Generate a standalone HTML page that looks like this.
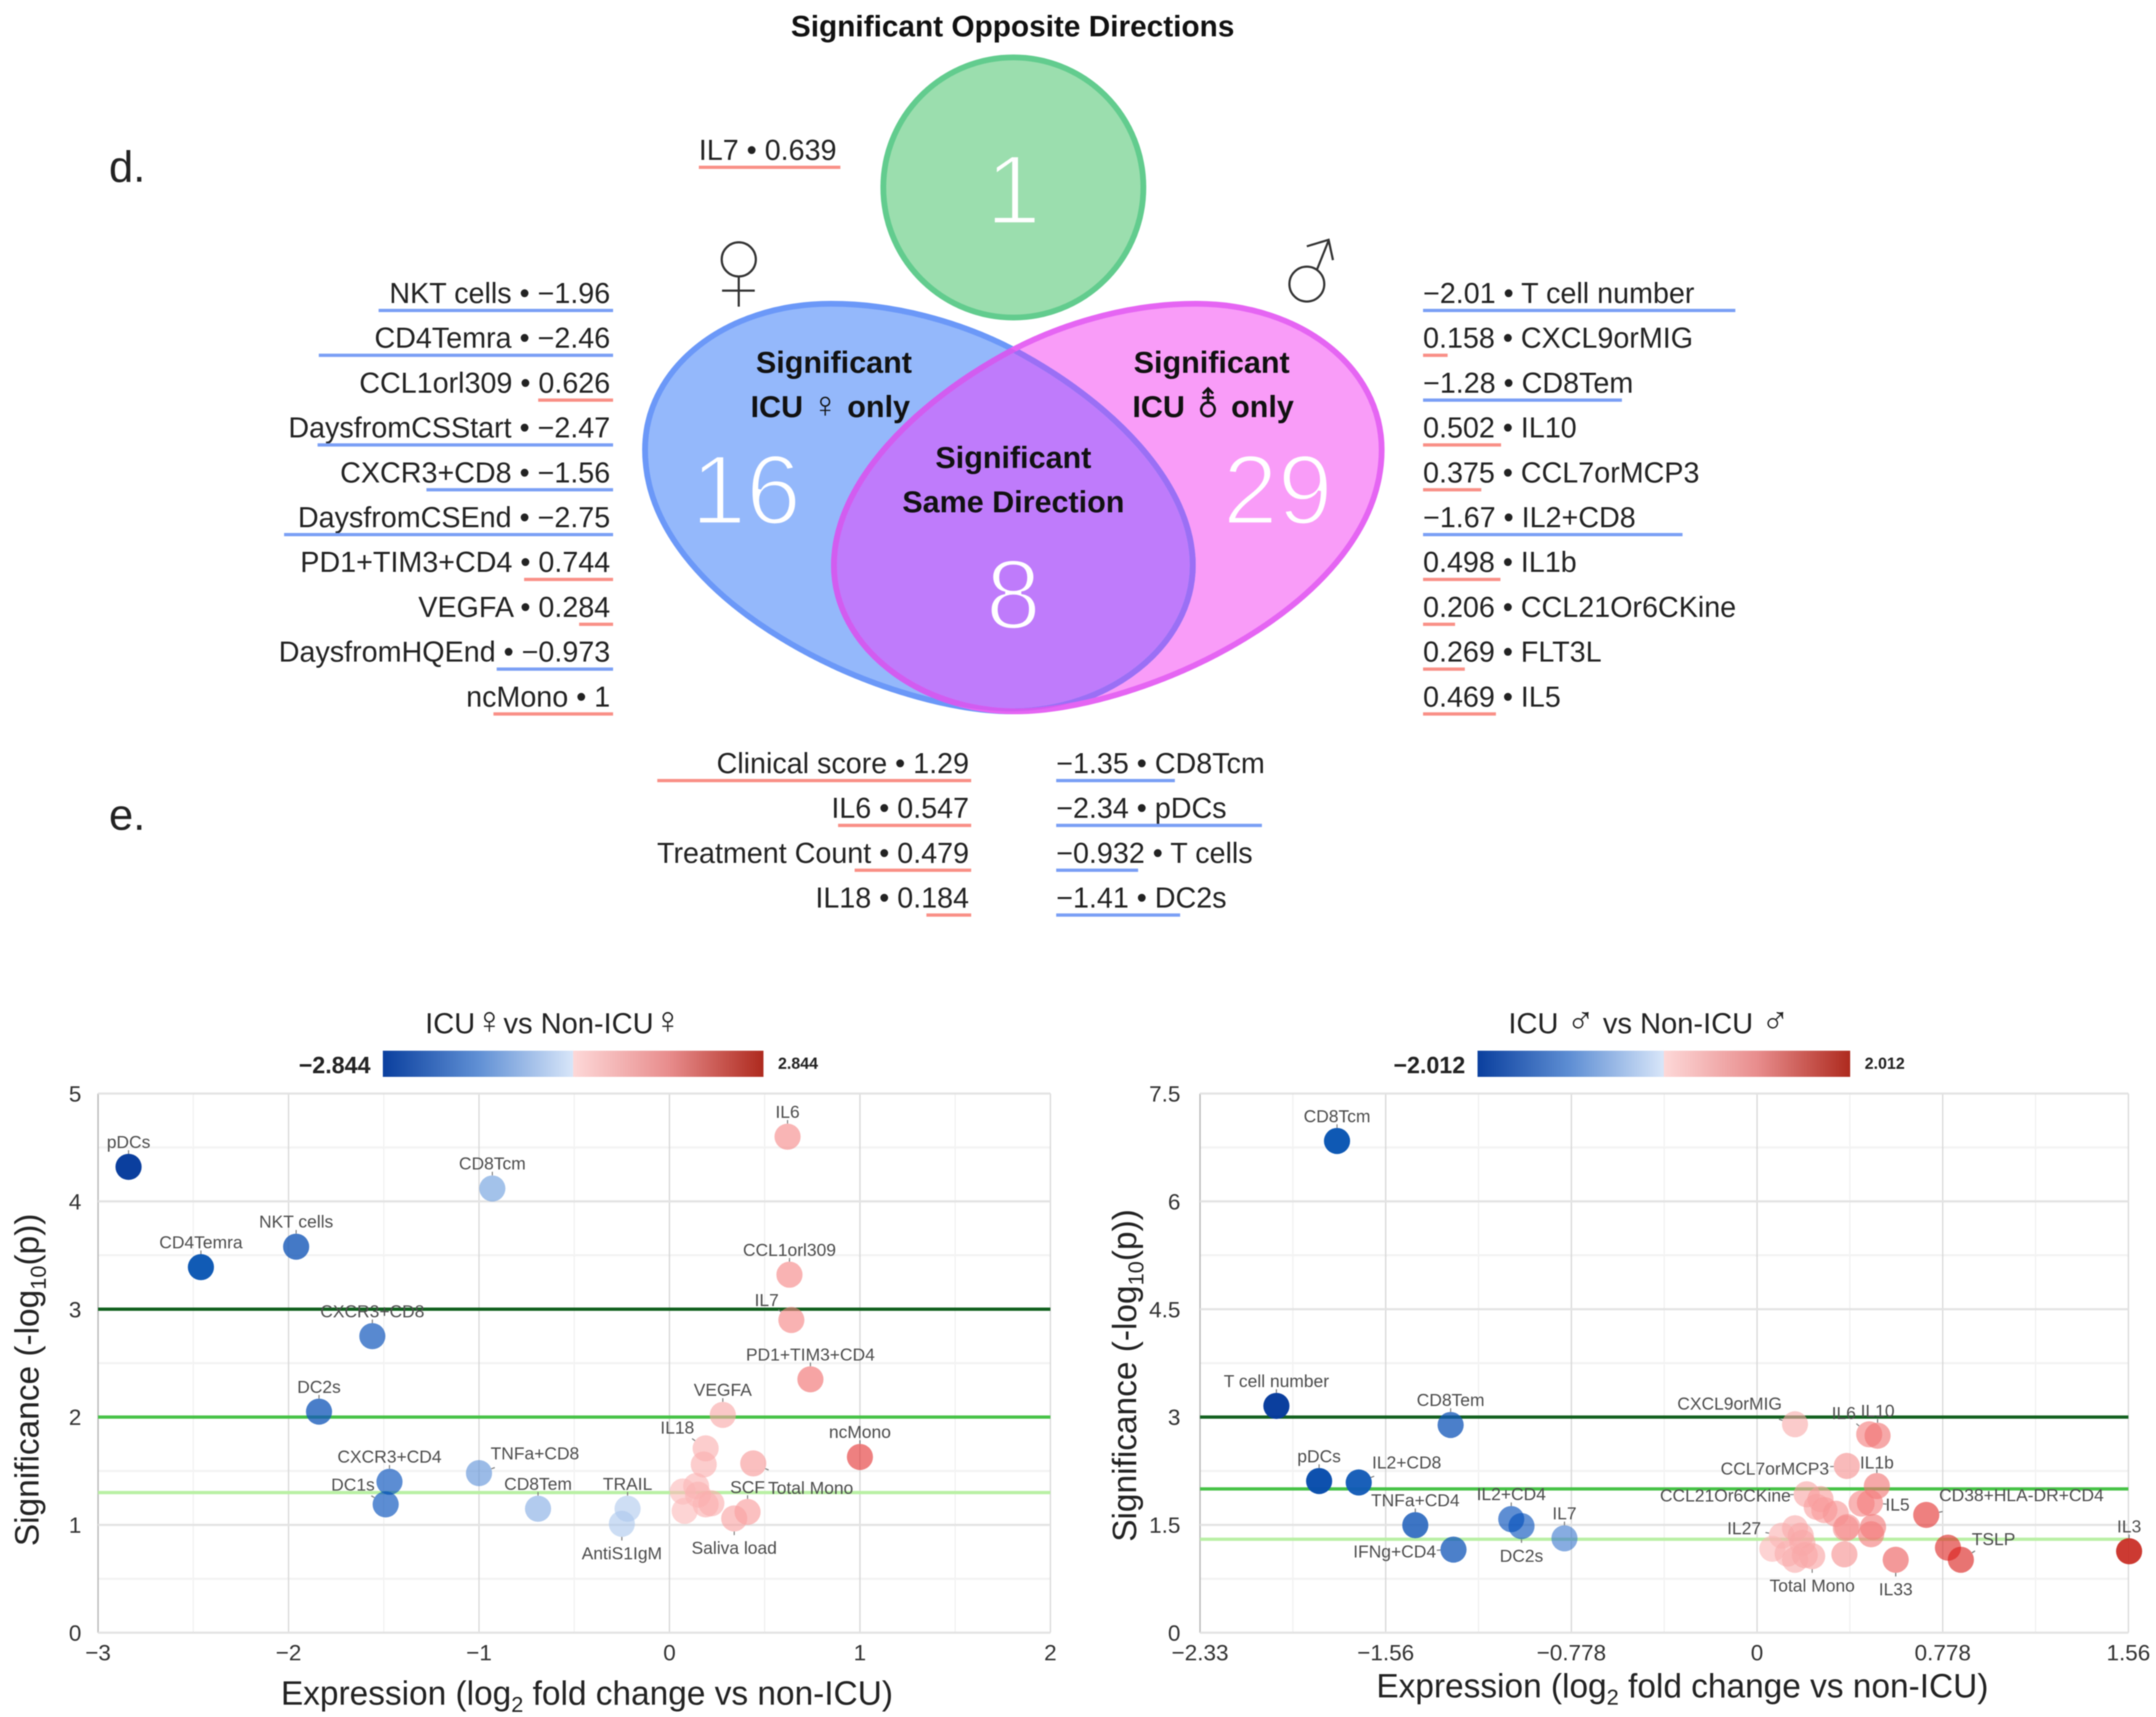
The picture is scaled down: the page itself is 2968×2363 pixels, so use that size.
<!DOCTYPE html>
<html lang="en">
<head>
<meta charset="utf-8">
<title>ICU vs Non-ICU significance</title>
<style>
html,body{margin:0;padding:0;background:#fff;}
svg{display:block;filter:blur(0.8px);}
text{font-family:"Liberation Sans","DejaVu Sans",sans-serif;}
</style>
</head>
<body>
<svg id="root" xmlns="http://www.w3.org/2000/svg" width="2968" height="2363" viewBox="0 0 2968 2363">
  <defs>
    <path id="blue-shape" d="M888 619 C888 505 1000 418 1144 418 C1235 418 1325 445 1393 480 C1530 552 1642 665 1642 778 C1642 890 1525 979 1392 979 C1220 979 888 830 888 619 Z"/>
    <path id="magenta-shape" d="M1902 619 C1902 505 1790 418 1646 418 C1555 418 1465 445 1397 480 C1260 552 1148 665 1148 778 C1148 890 1265 979 1398 979 C1570 979 1902 830 1902 619 Z"/>
    <clipPath id="blue-clip"><use href="#blue-shape"/></clipPath>
    <clipPath id="magenta-clip"><use href="#magenta-shape"/></clipPath>
    <linearGradient id="scale-gradient" x1="0" x2="1" y1="0" y2="0">
      <stop offset="0" stop-color="#0a3f9e"/>
      <stop offset="0.25" stop-color="#5f8fd4"/>
      <stop offset="0.5" stop-color="#d8e6f9"/>
      <stop offset="0.5" stop-color="#fdd8d8"/>
      <stop offset="0.75" stop-color="#e88d8d"/>
      <stop offset="1" stop-color="#ae2a1e"/>
    </linearGradient>
  </defs>

  <rect width="2968" height="2363" fill="#ffffff"/>

  <text x="150" y="250" font-size="60" fill="#222">d.</text>
  <text x="150" y="1142" font-size="60" fill="#222">e.</text>

  <g>
    <text x="1394" y="50" font-size="41" font-weight="bold" fill="#111" text-anchor="middle">Significant Opposite Directions</text>
    <circle cx="1395" cy="258" r="179" fill="#9bdeae" stroke="#62cc8e" stroke-width="8"/>
    <use href="#blue-shape" fill="#94b8fb"/>
    <use href="#magenta-shape" fill="#f99cf8"/>
    <use href="#magenta-shape" fill="#bf7bfb" clip-path="url(#blue-clip)"/>
    <use href="#blue-shape" fill="none" stroke="#6b98f8" stroke-width="8"/>
    <use href="#blue-shape" fill="none" stroke="#9b6ff5" stroke-width="8" clip-path="url(#magenta-clip)"/>
    <use href="#magenta-shape" fill="none" stroke="#e565f3" stroke-width="8"/>
    <use href="#magenta-shape" fill="none" stroke="#d25cf0" stroke-width="8" clip-path="url(#blue-clip)"/>

    <text x="1395" y="308" font-size="136" fill="#fff" stroke="#9bdeae" stroke-width="4" text-anchor="middle">1</text>
    <text x="1027" y="721" font-size="136" fill="#fff" stroke="#94b8fb" stroke-width="4" text-anchor="middle">16</text>
    <text x="1759" y="721" font-size="136" fill="#fff" stroke="#f99cf8" stroke-width="4" text-anchor="middle">29</text>
    <text x="1395" y="865" font-size="136" fill="#fff" stroke="#bf7bfb" stroke-width="4" text-anchor="middle">8</text>

    <text x="1148" y="513" font-size="42" font-weight="bold" fill="#111" text-anchor="middle">Significant</text>
    <text x="1143" y="574" font-size="42" font-weight="bold" fill="#111" text-anchor="middle">ICU <tspan font-size="50">♀</tspan> only</text>
    <text x="1668" y="513" font-size="42" font-weight="bold" fill="#111" text-anchor="middle">Significant</text>
    <text x="1670" y="574" font-size="42" font-weight="bold" fill="#111" text-anchor="middle">ICU <tspan font-size="48">⚨</tspan> only</text>
    <text x="1395" y="644" font-size="42" font-weight="bold" fill="#111" text-anchor="middle">Significant</text>
    <text x="1395" y="705" font-size="42" font-weight="bold" fill="#111" text-anchor="middle">Same Direction</text>

    <g fill="none" stroke="#333" stroke-width="3">
      <ellipse cx="1017" cy="357" rx="23.5" ry="23.5"/>
      <path d="M1017 380 V422 M994 400 H1039"/>
    </g>
    <g fill="none" stroke="#333" stroke-width="3">
      <circle cx="1799" cy="391" r="24"/>
      <path d="M1813 371 L1829 331 M1799 339 L1829 330 L1835 358"/>
    </g>
  </g>

  <g id="lists"></g>
  <g id="chart-female"></g>
  <g id="chart-male"></g>
</svg>

<script>
/* ---------- list data ---------- */
const oppositeLabels = ["IL7"];
const oppositeValues = [0.639];
const femaleOnlyLabels = ["NKT cells","CD4Temra","CCL1orl309","DaysfromCSStart","CXCR3+CD8","DaysfromCSEnd","PD1+TIM3+CD4","VEGFA","DaysfromHQEnd","ncMono"];
const femaleOnlyValues = [-1.96,-2.46,0.626,-2.47,-1.56,-2.75,0.744,0.284,-0.973,1];
const maleOnlyLabels = ["T cell number","CXCL9orMIG","CD8Tem","IL10","CCL7orMCP3","IL2+CD8","IL1b","CCL21Or6CKine","FLT3L","IL5"];
const maleOnlyValues = [-2.01,0.158,-1.28,0.502,0.375,-1.67,0.498,0.206,0.269,0.469];
const sameUpLabels = ["Clinical score","IL6","Treatment Count","IL18"];
const sameUpValues = [1.29,0.547,0.479,0.184];
const sameDownLabels = ["CD8Tcm","pDCs","T cells","DC2s"];
const sameDownValues = [-1.35,-2.34,-0.932,-1.41];

/* ---------- chart data: ICU female vs non-ICU female ---------- */
const femaleNames = ["pDCs","CD8Tcm","NKT cells","CD4Temra","IL6","CCL1orl309","IL7","PD1+TIM3+CD4","CXCR3+CD8","DC2s","VEGFA","ncMono","CXCR3+CD4","DC1s","TNFa+CD8","CD8Tem","TRAIL","AntiS1IgM","IL18","","Total Mono","","","","","","","SCF","Saliva load"];
const femaleFold = [-2.84,-0.93,-1.96,-2.46,0.62,0.63,0.64,0.74,-1.56,-1.84,0.28,1.0,-1.47,-1.49,-1.0,-0.69,-0.22,-0.25,0.19,0.18,0.44,0.14,0.07,0.15,0.22,0.19,0.08,0.41,0.34];
const femaleSig = [4.32,4.12,3.58,3.39,4.6,3.32,2.9,2.35,2.75,2.05,2.02,1.63,1.4,1.19,1.48,1.15,1.15,1.01,1.71,1.56,1.57,1.36,1.31,1.28,1.2,1.19,1.13,1.12,1.06];
const femaleXTicks = [-3,-2,-1,0,1,2];
const femaleXTickLabels = ["−3","−2","−1","0","1","2"];
const femaleYTicks = [0,1,2,3,4,5];
const femaleYTickLabels = ["0","1","2","3","4","5"];
const femaleThresholds = [3,2,1.3];
const femaleScaleMax = 2.844;

/* ---------- chart data: ICU male vs non-ICU male ---------- */
const maleNames = ["CD8Tcm","T cell number","CD8Tem","pDCs","IL2+CD8","TNFa+CD4","IFNg+CD4","IL2+CD4","DC2s","IL7","CXCL9orMIG","IL6","IL10","CCL7orMCP3","IL1b","CCL21Or6CKine","","","","","","IL5","","","","","CD38+HLA-DR+CD4","","TSLP","IL3","IL33","","Total Mono","IL27","","","","","","",""];
const maleFold = [-1.76,-2.014,-1.284,-1.835,-1.669,-1.432,-1.272,-1.03,-0.987,-0.807,0.159,0.47,0.505,0.376,0.502,0.208,0.266,0.25,0.282,0.33,0.438,0.473,0.372,0.378,0.486,0.478,0.709,0.8,0.854,1.559,0.581,0.366,0.231,0.104,0.064,0.159,0.183,0.19,0.128,0.159,0.2];
const maleSig = [6.84,3.155,2.89,2.11,2.09,1.496,1.156,1.58,1.483,1.313,2.9,2.76,2.74,2.32,2.04,1.925,1.858,1.75,1.706,1.655,1.797,1.807,1.453,1.47,1.47,1.37,1.639,1.183,1.015,1.133,1.015,1.09,1.065,1.35,1.167,1.453,1.35,1.25,1.1,1.015,1.08];
const maleXTicks = [-2.334,-1.556,-0.778,0,0.778,1.556];
const maleXTickLabels = ["−2.33","−1.56","−0.778","0","0.778","1.56"];
const maleYTicks = [0,1.5,3,4.5,6,7.5];
const maleYTickLabels = ["0","1.5","3","4.5","6","7.5"];
const maleThresholds = [3,2,1.3];
const maleScaleMax = 2.012;

/* ---------- label placement (pixels relative to each mark; layout, not data) ---------- */
const above = [0,-34], below = [0,41];
const femaleLabelPlacement = {
  "pDCs":above,"CD8Tcm":above,"NKT cells":above,"CD4Temra":above,"IL6":above,"CCL1orl309":above,
  "IL7":[-34,-27],"PD1+TIM3+CD4":above,"CXCR3+CD8":above,"DC2s":above,"VEGFA":above,"ncMono":above,
  "CXCR3+CD4":above,"DC1s":[-45,-27],"TNFa+CD8":[77,-27],"CD8Tem":above,"TRAIL":above,"AntiS1IgM":below,
  "IL18":[-39,-28],"SCF":above,"Total Mono":[79,34],"Saliva load":below
};
const maleLabelPlacement = {
  "CD8Tcm":above,"T cell number":above,"CD8Tem":above,"pDCs":above,"IL2+CD8":[66,-27],"TNFa+CD4":above,
  "IFNg+CD4":[-81,3],"IL2+CD4":above,"DC2s":below,"IL7":above,"CXCL9orMIG":[-90,-28],"IL6":[-35,-29],
  "IL10":above,"CCL7orMCP3":[-99,4],"IL1b":[0,-32],"CCL21Or6CKine":[-112,2],"IL5":[38,3],
  "CD38+HLA-DR+CD4":[131,-27],"TSLP":[45,-28],"IL3":above,"IL33":below,"Total Mono":below,"IL27":[-52,-10]
};

/* ---------- helpers ---------- */
const NS = "http://www.w3.org/2000/svg";
function mk(tag, attrs, parent, txt) {
  const el = document.createElementNS(NS, tag);
  for (const k in attrs) el.setAttribute(k, attrs[k]);
  if (txt !== undefined) el.textContent = txt;
  parent.appendChild(el);
  return el;
}
function slug(s) { return String(s).toLowerCase().replace(/[^a-z0-9]+/g, "-").replace(/^-|-$/g, ""); }
function printed(v) { return v < 0 ? "−" + Math.abs(v) : String(v); }

/* ---------- variable lists with length-encoded underlines ---------- */
const listsRoot = document.getElementById("lists");
function drawList(name, labels, values, o) {
  labels.forEach(function (lab, i) {
    const y = o.y0 + i * o.step;
    const str = o.labelFirst ? lab + " • " + printed(values[i]) : printed(values[i]) + " • " + lab;
    const t = mk("text", {x: o.x, y: y, "font-size": 39.5, fill: "#222", "text-anchor": o.side}, listsRoot, str);
    
    
    const len = Math.abs(values[i]) * o.unit;
    const x1 = o.side === "end" ? o.barEdge - len : o.barEdge;
    const b = mk("rect", {x: x1, y: y + 8, width: len, height: 4.5, fill: values[i] < 0 ? "#7a9ff5" : "#f98f86"}, listsRoot);
    
    
  });
}
drawList("opposite", oppositeLabels, oppositeValues, {side: "start", labelFirst: true, x: 962, barEdge: 962, y0: 220, step: 0, unit: 305});
drawList("female-only", femaleOnlyLabels, femaleOnlyValues, {side: "end", labelFirst: true, x: 840, barEdge: 844, y0: 417, step: 61.7, unit: 164.7});
drawList("male-only", maleOnlyLabels, maleOnlyValues, {side: "start", labelFirst: false, x: 1959, barEdge: 1959, y0: 417, step: 61.7, unit: 213.9});
drawList("same-up", sameUpLabels, sameUpValues, {side: "end", labelFirst: true, x: 1334, barEdge: 1337, y0: 1064, step: 61.7, unit: 335});
drawList("same-down", sameDownLabels, sameDownValues, {side: "start", labelFirst: false, x: 1454, barEdge: 1454, y0: 1064, step: 61.7, unit: 121});

/* ---------- volcano plots ---------- */
const blueRamp = [[0,[219,231,248]],[0.33,[163,193,234]],[0.5,[95,143,212]],[0.69,[68,121,198]],[0.87,[15,90,181]],[1,[11,63,158]]];
const redRamp = [[0,[253,216,216]],[0.22,[249,180,180]],[0.35,[238,128,128]],[0.775,[204,58,50]],[1,[174,42,30]]];
function markAlpha(v, max) {
  const t = Math.min(1, Math.abs(v) / max);
  return 0.62 + Math.max(0, Math.min(1, (t - 0.5) / 0.35)) * 0.36;
}
function rampColor(v, max) {
  const ramp = v < 0 ? blueRamp : redRamp;
  const t = Math.min(1, Math.abs(v) / max);
  const a = markAlpha(v, max);
  let c = ramp[ramp.length-1][1];
  for (let i = 1; i < ramp.length; i++) {
    if (t <= ramp[i][0]) {
      const f = (t - ramp[i-1][0]) / (ramp[i][0] - ramp[i-1][0]);
      c = ramp[i-1][1].map(function (p, k) { return p + (ramp[i][1][k] - p) * f; });
      break;
    }
  }
  /* un-premultiply so the mark looks like the observed colour on white */
  const fill = c.map(function (o) { return Math.max(0, Math.min(255, Math.round((o - 255 * (1 - a)) / a))); });
  return "rgb(" + fill.join(",") + ")";
}

function symbolTitle(g, c) {
  const title = mk("text", {x: c.titleX, y: 1422, "font-size": 40, fill: "#222", "text-anchor": "middle"}, g);
  
  
  mk("tspan", {}, title, c.titleA);
  mk("tspan", {"font-size": 52}, title, c.symbol);
  mk("tspan", {}, title, c.titleB);
  mk("tspan", {"font-size": 52}, title, c.symbol);
}

function drawChart(g, c) {
  const xS = function (v) { return c.left + (v - c.xTicks[0]) / (c.xTicks[c.xTicks.length-1] - c.xTicks[0]) * (c.right - c.left); };
  const yS = function (v) { return c.bottom - (v - c.yTicks[0]) / (c.yTicks[c.yTicks.length-1] - c.yTicks[0]) * (c.bottom - c.top); };

  /* minor grid */
  for (let i = 0; i < c.xTicks.length - 1; i++) {
    const m = (c.xTicks[i] + c.xTicks[i+1]) / 2;
    const l = mk("line", {x1: xS(m), x2: xS(m), y1: c.top, y2: c.bottom, stroke: "#efefef", "stroke-width": 1.5}, g);
    
    
  }
  for (let i = 0; i < c.yTicks.length - 1; i++) {
    const m = (c.yTicks[i] + c.yTicks[i+1]) / 2;
    const l = mk("line", {x1: c.left, x2: c.right, y1: yS(m), y2: yS(m), stroke: "#f3f3f3", "stroke-width": 3}, g);
    
    
  }
  /* major grid + tick labels */
  c.xTicks.forEach(function (v, i) {
    const first = i === 0;
    const l = mk("line", {x1: xS(v), x2: xS(v), y1: c.top, y2: c.bottom, stroke: first ? "#bdbdbd" : "#d8d8d8", "stroke-width": first ? 2 : 1.8}, g);
    
    
    const t = mk("text", {x: xS(v), y: c.bottom + 38, "font-size": 31, fill: "#333", "text-anchor": "middle"}, g, c.xLabels[i]);
    
    
  });
  c.yTicks.forEach(function (v, i) {
    const l = mk("line", {x1: c.left, x2: c.right, y1: yS(v), y2: yS(v), stroke: "#e3e3e3", "stroke-width": 3}, g);
    
    
    const t = mk("text", {x: c.yLabelX, y: yS(v) + 11, "font-size": 31, fill: "#333", "text-anchor": "end"}, g, c.yLabels[i]);
    
    
  });
  /* significance thresholds */
  const thresholdColors = ["#12601f", "#46c246", "#b9f0a4"];
  c.thresholds.forEach(function (v, i) {
    const l = mk("line", {x1: c.left, x2: c.right, y1: yS(v), y2: yS(v), stroke: thresholdColors[i], "stroke-width": 4.5}, g);
    
    
  });
  /* marks */
  c.fold.forEach(function (v, i) {
    const p = mk("circle", {cx: xS(v), cy: yS(c.sig[i]), r: 18, fill: rampColor(v, c.scaleMax), "fill-opacity": markAlpha(v, c.scaleMax)}, g);
    
    
  });
  /* labels + leaders */
  c.names.forEach(function (n, i) {
    const off = c.placement[n];
    if (!n || !off) return;
    const px = xS(c.fold[i]), py = yS(c.sig[i]);
    const d = Math.hypot(off[0], off[1]) || 1;
    const ux = off[0] / d, uy = off[1] / d;
    const lead = mk("line", {x1: px + ux * 18, y1: py + uy * 18, x2: px + ux * 23, y2: py + uy * 23, stroke: "#777", "stroke-width": 1.5}, g);
    
    
    const t = mk("text", {x: px + off[0], y: py + off[1] + 8, "font-size": 24, fill: "#4d4d4d", "text-anchor": "middle"}, g, n);
    
    
  });
  /* title */
  symbolTitle(g, c);
  /* color scale */
  const bar = mk("rect", {x: c.barX, y: 1446, width: c.barW, height: 36, fill: "url(#scale-gradient)"}, g);
  
  
  const lo = mk("text", {x: c.barX - 17, y: 1477, "font-size": 32, "font-weight": "bold", fill: "#222", "text-anchor": "end"}, g, "−" + c.scaleMax.toFixed(3));
  
  
  const hi = mk("text", {x: c.barX + c.barW + 20, y: 1471, "font-size": 22, "font-weight": "bold", fill: "#222"}, g, c.scaleMax.toFixed(3));
  
  
  /* axis titles */
  const xt = mk("text", {x: c.xTitleX, y: c.xTitleY, "font-size": 46, fill: "#222", "text-anchor": "middle"}, g);
  
  
  mk("tspan", {}, xt, "Expression (log");
  mk("tspan", {"font-size": 30, dy: 10}, xt, "2");
  mk("tspan", {dy: -10}, xt, " fold change vs non-ICU)");
  const yt = mk("text", {transform: "translate(" + c.yTitleX + "," + c.yTitleY + ") rotate(-90)", "font-size": 46, fill: "#222", "text-anchor": "middle"}, g);
  
  
  mk("tspan", {}, yt, "Significance (-log");
  mk("tspan", {"font-size": 30, dy: 10}, yt, "10");
  mk("tspan", {dy: -10}, yt, "(p))");
}

drawChart(document.getElementById("chart-female"), {
  names: femaleNames, fold: femaleFold, sig: femaleSig,
  xTicks: femaleXTicks, xLabels: femaleXTickLabels, yTicks: femaleYTicks, yLabels: femaleYTickLabels,
  thresholds: femaleThresholds, scaleMax: femaleScaleMax, placement: femaleLabelPlacement,
  left: 135, right: 1446, top: 1505, bottom: 2247, yLabelX: 112,
  titleA: "ICU", titleB: "vs Non-ICU", symbol: "♀", titleX: 762, barX: 527, barW: 524,
  xTitleX: 808, xTitleY: 2346, yTitleX: 53, yTitleY: 1899
});
drawChart(document.getElementById("chart-male"), {
  names: maleNames, fold: maleFold, sig: maleSig,
  xTicks: maleXTicks, xLabels: maleXTickLabels, yTicks: maleYTicks, yLabels: maleYTickLabels,
  thresholds: maleThresholds, scaleMax: maleScaleMax, placement: maleLabelPlacement,
  left: 1652, right: 2930, top: 1505, bottom: 2247, yLabelX: 1625,
  titleA: "ICU ", titleB: " vs Non-ICU ", symbol: "♂", titleX: 2270, barX: 2034, barW: 513,
  xTitleX: 2316, xTitleY: 2336, yTitleX: 1564, yTitleY: 1893
});
</script>
</body>
</html>
